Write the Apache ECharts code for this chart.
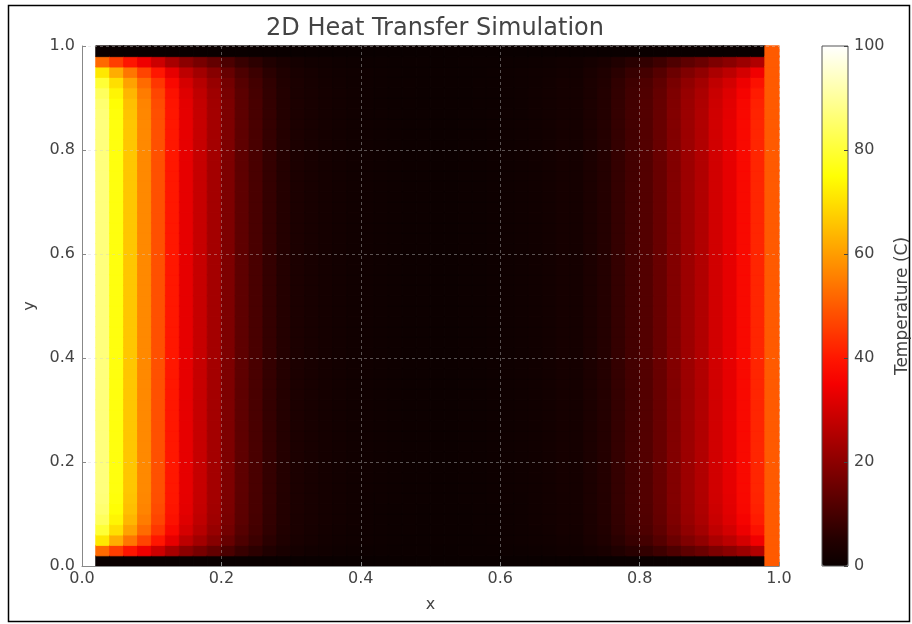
<!DOCTYPE html>
<html>
<head>
<meta charset="utf-8">
<script src="https://cdn.jsdelivr.net/npm/echarts@6/dist/echarts.min.js"></script>
<style>
  html, body { margin: 0; background: #fff; }
  #main { width: 912px; height: 624px; }
</style>
</head>
<body>
<div id="main"></div>
<script>
// temperature of each column (x = 0 .. 1, 50 cells) read at mid height
const colTemps = [
  100, 87, 76, 66, 57, 48.5, 40, 33, 28.3, 23.5,
  17.8, 13.4, 10.4, 7.4, 5.1, 3.6, 2.8, 2.2, 1.8, 1.4,
  1.1, 0.9, 0.7, 0.6, 0.5, 0.45, 0.45, 0.5, 0.6, 0.7,
  0.9, 1.1, 1.4, 1.8, 2.3, 2.2, 3.6, 5.1, 7.4, 9.6,
  11.9, 14.8, 18.6, 22.3, 25.3, 29.8, 32.8, 37, 42, 50
]
// cooling toward the cold top/bottom walls (row 0 = bottom)
const rowFactors = [
  0, 0.6, 0.82, 0.92, 0.965, 0.985, 0.995, 1, 1, 1,
  1, 1, 1, 1, 1, 1, 1, 1, 1, 1,
  1, 1, 1, 1, 1, 1, 1, 1, 1, 1,
  1, 1, 1, 1, 1, 1, 1, 1, 1, 1,
  1, 1, 1, 0.995, 0.985, 0.965, 0.92, 0.82, 0.6, 0
]
const axisTicks = [0, 0.2, 0.4, 0.6, 0.8, 1.0]
const barTicks = [0, 20, 40, 60, 80, 100]

// matplotlib "hot"
const hotColors = [
  '#0a0000', '#230000', '#460000', '#690000', '#8c0000', '#af0000', '#d20000', '#f50000',
  '#ff1700', '#ff3900', '#ff5a00', '#ff7c00', '#ff9d00', '#ffbf00', '#ffe000',
  '#ffff04', '#ffff36', '#ffff68', '#ffff9b', '#ffffcd', '#ffffff'
]

// same ramp, used only to paint cell borders so no seams show
function hotColor(v) {
  const t = Math.max(0, Math.min(1, v / 100)) * (hotColors.length - 1)
  const k = Math.min(Math.floor(t), hotColors.length - 2)
  const f = t - k
  const a = echarts.color.parse(hotColors[k])
  const b = echarts.color.parse(hotColors[k + 1])
  const c = [0, 1, 2].map(n => Math.round(a[n] + (b[n] - a[n]) * f))
  return 'rgb(' + c.join(',') + ')'
}

const nx = colTemps.length
const ny = rowFactors.length
const xCats = []
const yCats = []
for (let i = 0; i < nx; i++) xCats.push(i)
for (let j = 0; j < ny; j++) yCats.push(j)

const cells = []
for (let i = 0; i < nx; i++) {
  for (let j = 0; j < ny; j++) {
    // left and right columns are fixed walls
    const v = (i === 0 || i === nx - 1) ? colTemps[i] : colTemps[i] * rowFactors[j]
    cells.push({
      value: [i, j, +v.toFixed(2)],
      itemStyle: { borderColor: hotColor(v), borderWidth: 0.8 },
    })
  }
}

const font = 'DejaVu Sans'
const labelStyle = { color: '#444', fontSize: 16, fontFamily: font }
const gridLine = { show: true, lineStyle: { color: 'rgba(210,210,210,0.5)', width: 0.8, type: [3, 3] } }

const chart = echarts.init(document.getElementById('main'))
chart.setOption({
  backgroundColor: '#fff',
  animation: false,
  title: {
    text: '2D Heat Transfer Simulation',
    left: 430,
    textAlign: 'center',
    top: 12,
    textStyle: { color: '#444', fontSize: 24, fontWeight: 'normal', fontFamily: font },
  },
  graphic: [
    {
      type: 'rect',
      shape: { x: 8.5, y: 5.5, width: 901, height: 616 },
      style: { fill: 'none', stroke: '#000', lineWidth: 1.5 },
      silent: true,
    },
  ],
  grid: [
    { left: 82, top: 46, width: 697, height: 520, outerBoundsMode: 'none' },
    {
      left: 822, top: 46, width: 26, height: 520, outerBoundsMode: 'none',
      show: true, z: 10, borderColor: '#555', borderWidth: 1, backgroundColor: 'transparent',
    },
  ],
  xAxis: [
    { type: 'category', data: xCats, gridIndex: 0, show: false },
    {
      type: 'value', gridIndex: 0, min: 0, max: 1, interval: 0.2, position: 'bottom', z: 5,
      name: 'x', nameLocation: 'middle', nameGap: 31,
      nameTextStyle: labelStyle,
      axisLine: { show: true, lineStyle: { color: '#888', width: 1 } },
      axisTick: { show: true, inside: true, length: 4, lineStyle: { color: '#888' } },
      axisLabel: { ...labelStyle, margin: 5, formatter: v => v.toFixed(1) },
      splitLine: gridLine,
    },
    { type: 'category', data: [0], gridIndex: 1, show: false },
  ],
  yAxis: [
    { type: 'category', data: yCats, gridIndex: 0, show: false },
    {
      type: 'value', gridIndex: 0, min: 0, max: 1, interval: 0.2, position: 'left', z: 5,
      name: 'y', nameLocation: 'middle', nameGap: 44,
      nameTextStyle: labelStyle,
      axisLine: { show: true, lineStyle: { color: '#888', width: 1 } },
      axisTick: { show: true, inside: true, length: 4, lineStyle: { color: '#888' } },
      axisLabel: { ...labelStyle, margin: 7, formatter: v => v.toFixed(1) },
      splitLine: gridLine,
    },
    {
      type: 'value', gridIndex: 1, min: 0, max: 100, interval: 20, position: 'right', z: 12,
      name: 'Temperature (C)', nameLocation: 'middle', nameGap: 46, nameRotate: 90,
      nameTextStyle: { ...labelStyle, fontSize: 17 },
      axisLine: { show: false },
      axisTick: { show: true, inside: true, length: 4, lineStyle: { color: '#444' } },
      axisLabel: { ...labelStyle, margin: 6, formatter: v => barTicks.includes(v) ? String(v) : '' },
      splitLine: { show: false },
    },
  ],
  visualMap: {
    type: 'continuous',
    min: 0,
    max: 100,
    seriesIndex: 0,
    calculable: false,
    left: 822,
    top: 46,
    padding: 0,
    itemWidth: 26,
    itemHeight: 520,
    inRange: { color: hotColors },
    textStyle: { color: 'transparent' },
    text: null,
  },
  series: [
    {
      type: 'heatmap',
      xAxisIndex: 0,
      yAxisIndex: 0,
      data: cells,
      emphasis: { disabled: true },
    },
  ],
})
</script>
</body>
</html>
